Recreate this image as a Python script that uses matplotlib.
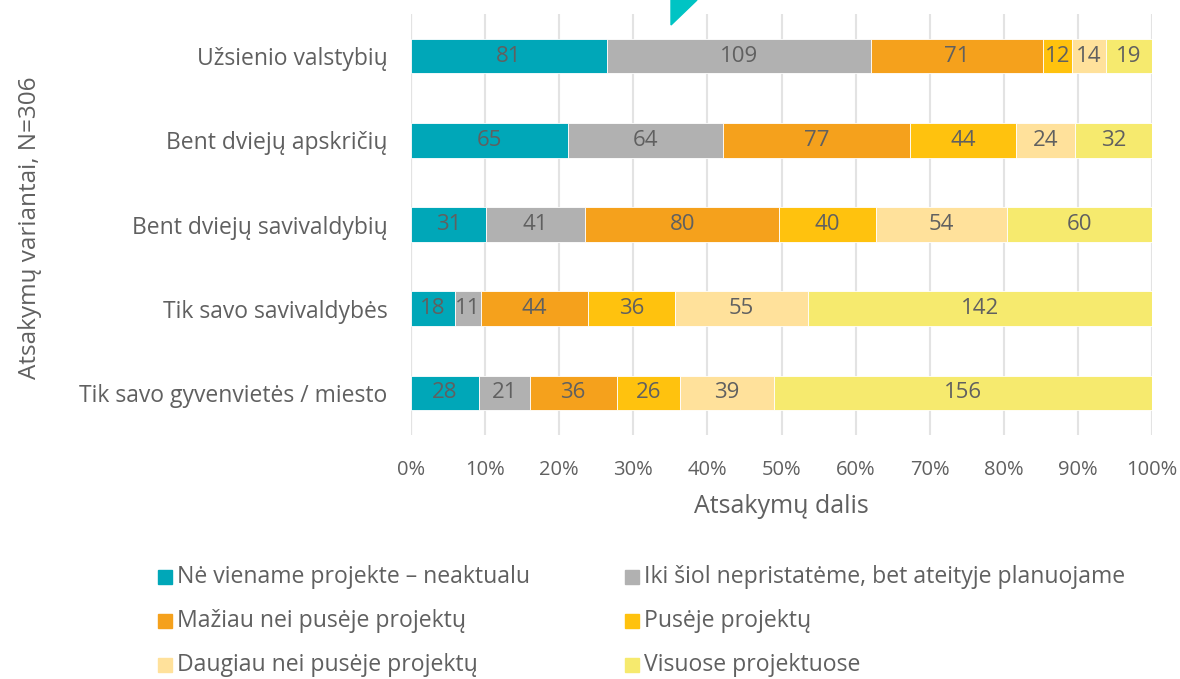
import matplotlib.pyplot as plt
from matplotlib.patches import Polygon, Rectangle

plt.rcParams['font.family'] = ['Open Sans', 'DejaVu Sans']

categories = ["Užsienio valstybių", "Bent dviejų apskričių", "Bent dviejų savivaldybių",
              "Tik savo savivaldybės", "Tik savo gyvenvietės / miesto"]
series_names = ["Nė viename projekte – neaktualu", "Iki šiol nepristatėme, bet ateityje planuojame",
                "Mažiau nei pusėje projektų", "Pusėje projektų",
                "Daugiau nei pusėje projektų", "Visuose projektuose"]
counts = [
    [81, 65, 31, 18, 28],
    [109, 64, 41, 11, 21],
    [71, 77, 80, 44, 36],
    [12, 44, 40, 36, 26],
    [14, 24, 54, 55, 39],
    [19, 32, 60, 142, 156],
]
colors = ["#00A7B8", "#B1B1B1", "#F5A11C", "#FFC20E", "#FFE19B", "#F6EA6E"]
ticks = [0, 0.1, 0.2, 0.3, 0.4, 0.5, 0.6, 0.7, 0.8, 0.9, 1.0]
tick_labels = ["0%", "10%", "20%", "30%", "40%", "50%", "60%", "70%", "80%", "90%", "100%"]

text_col = "#606060"
totals = [sum(c[i] for c in counts) for i in range(len(categories))]

fig = plt.figure(figsize=(11.8, 6.79), dpi=100)
ax = fig.add_axes([411 / 1180, 1 - 435 / 679, 741 / 1180, 421 / 679])

ypos = list(range(len(categories)))
left = [0.0] * len(categories)
for name, vals, col in zip(series_names, counts, colors):
    shares = [v / t for v, t in zip(vals, totals)]
    bars = ax.barh(ypos, shares, left=left, height=0.41, color=col, label=name,
                   edgecolor="white", linewidth=0.6, zorder=3)
    ax.bar_label(bars, labels=[str(v) for v in vals], label_type="center",
                 fontsize=16, color=text_col)
    left = [l + s for l, s in zip(left, shares)]

ax.set_ylim(len(categories) - 0.5, -0.5)
ax.set_xlim(0, 1)
ax.set_xticks(ticks)
ax.set_xticklabels(tick_labels, fontsize=14.5)
ax.set_yticks(ypos)
ax.set_yticklabels(categories, fontsize=16.5)
ax.grid(axis="x", color="#E3E3E3", linewidth=1.5, zorder=0)
ax.tick_params(axis="both", length=0, labelcolor=text_col)
ax.tick_params(axis="x", pad=18)
ax.tick_params(axis="y", pad=17)
for s in ax.spines.values():
    s.set_visible(False)
ax.axvline(0, color="#E3E3E3", linewidth=1.5, zorder=1)

ax.set_xlabel("Atsakymų dalis", fontsize=18, color=text_col, labelpad=10)
fig.text(30 / 1180, 1 - 228 / 679, "Atsakymų variantai, N=306", rotation=90,
         ha="center", va="center", fontsize=17.5, color=text_col)

# legend: two columns, three rows
leg_x = [158, 625]
leg_y = [577, 621, 665]
for i, (name, col) in enumerate(zip(series_names, colors)):
    x = leg_x[i % 2]
    y = leg_y[i // 2]
    fig.patches.append(Rectangle((x / 1180, 1 - (y + 7) / 679), 14 / 1180, 14 / 679,
                                 transform=fig.transFigure, color=col))
    fig.text((x + 19) / 1180, 1 - y / 679, name, ha="left", va="center",
             fontsize=16.6, color=text_col)

# teal corner mark at the top
fig.patches.append(Polygon([(671 / 1180, 1.0), (697 / 1180, 1.0), (671 / 1180, 1 - 25 / 679)],
                           closed=True, transform=fig.transFigure, color="#00C4C4"))

fig.savefig("out.png", dpi=100)
